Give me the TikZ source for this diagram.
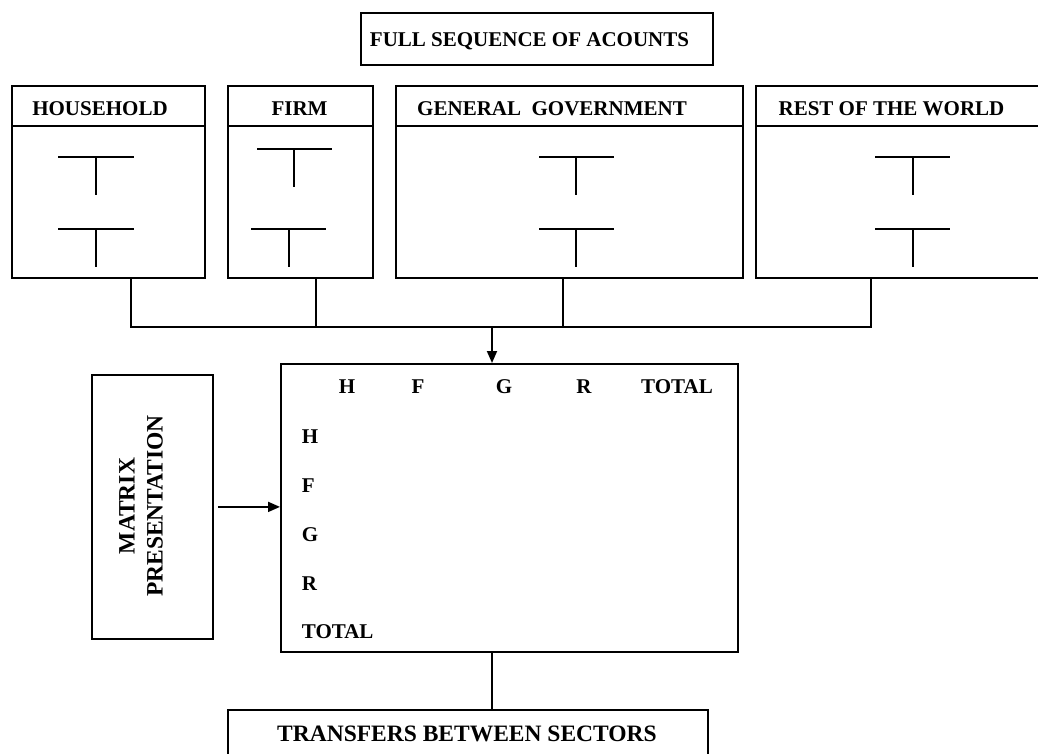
\documentclass[tikz,border=0pt]{standalone}
\usepackage{fontspec}
\setmainfont{Liberation Serif}
\usetikzlibrary{arrows.meta}
\begin{document}
\begin{tikzpicture}[x=1pt,y=-1pt,
  line width=1.8pt,
  box/.style={draw, line width=1.8pt, inner sep=0pt, anchor=north west},
  lbl/.style={font=\bfseries\fontsize{21}{25}\selectfont, inner sep=0pt, anchor=base},
  rowlbl/.style={lbl, anchor=base west},
  biglbl/.style={font=\bfseries\fontsize{23.5}{28}\selectfont, inner sep=0pt},
  tee/.style={line width=1.8pt},
  conn/.style={line width=1.8pt},
  arr/.style={conn, -{Triangle[length=12pt,width=10pt]}}
]
\clip (0,0) rectangle (1038,754);
\fill[white] (0,0) rectangle (1038,754);

% top box
\node[box, minimum width=352, minimum height=52] (fsa) at (360,12) {};
\node[lbl] (fsat) at (529.5,46.7) {FULL SEQUENCE OF ACOUNTS};

% sector boxes
\node[box, minimum width=193, minimum height=192] (hh) at (11,85) {};
\node[box, minimum width=145, minimum height=192] (fi) at (227,85) {};
\node[box, minimum width=347, minimum height=192] (gg) at (395,85) {};
\node[box, minimum width=300, minimum height=192] (rw) at (755,85) {};
\foreach \b in {hh,fi,gg,rw}
  \draw ([yshift=-41pt]\b.north west) -- ([yshift=-41pt]\b.north east);

\node[lbl] (hht) at (100,116) {HOUSEHOLD};
\node[lbl] (fit) at (299.5,116) {FIRM};
\node[lbl] (ggt) at (552,116) {GENERAL\ \ GOVERNMENT};
\node[lbl] (rwt) at (891.5,116) {REST OF THE WORLD};

% T accounts
\draw[tee] (58,157) -- (134,157) (96,157) -- (96,195);
\draw[tee] (58,229) -- (134,229) (96,229) -- (96,267);
\draw[tee] (257,149) -- (332,149) (294,149) -- (294,187);
\draw[tee] (251,229) -- (326,229) (289,229) -- (289,267);
\draw[tee] (539,157) -- (614,157) (576,157) -- (576,195);
\draw[tee] (539,229) -- (614,229) (576,229) -- (576,267);
\draw[tee] (875,157) -- (950,157) (913,157) -- (913,195);
\draw[tee] (875,229) -- (950,229) (913,229) -- (913,267);

% matrix box
\node[box, minimum width=457, minimum height=288] (mx) at (280,363) {};
\coordinate (bus) at (492,327);

% bus connectors
\draw[conn] (hh.south -| 131,0) -- (131,327) -- (871,327) -- (rw.south -| 871,0);
\draw[conn] (fi.south -| 316,0) -- (316,327);
\draw[conn] (gg.south -| 563,0) -- (563,327);
\draw[arr] (bus) -- (mx.north -| bus);

% matrix labels
\node[lbl] (c1) at (347,393) {H};
\node[lbl] (c2) at (418,393) {F};
\node[lbl] (c3) at (504,393) {G};
\node[lbl] (c4) at (584,393) {R};
\node[lbl] (c5) at (677,393) {TOTAL};
\node[rowlbl] (r1) at (301,443.3) {H};
\node[rowlbl] (r2) at (301,492) {F};
\node[rowlbl] (r3) at (301,541.5) {G};
\node[rowlbl] (r4) at (301,590) {R};
\node[rowlbl] (r5) at (301,638.3) {TOTAL};

% matrix presentation
\node[box, minimum width=121, minimum height=264] (mp) at (91,374) {};
\node[biglbl, rotate=90, align=center] (mpt) at (141,506) {MATRIX\\PRESENTATION};
\draw[arr] ([xshift=4pt]mp.east) -- (mx.west |- mp.east);

% transfers box
\node[box, minimum width=480, minimum height=80] (tb) at (227,709.3) {};
\node[biglbl, anchor=base] (tbt) at (467,741.7) {TRANSFERS BETWEEN SECTORS};
\draw[conn] (mx.south -| 492,0) -- (tb.north -| 492,0);
\end{tikzpicture}
\end{document}
